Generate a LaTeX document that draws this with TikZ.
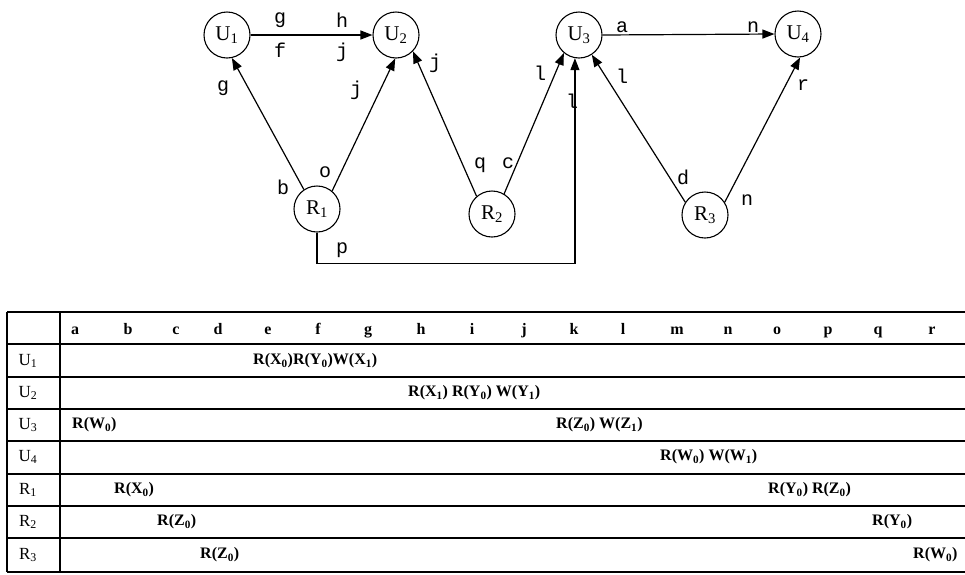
\documentclass[tikz,border=0pt]{standalone}
\usepackage{fontspec}
\setmainfont{Liberation Serif}
\newfontfamily\labelfont{Liberation Mono}
\usetikzlibrary{arrows.meta}
\begin{document}
\begin{tikzpicture}[x=1pt,y=-1pt,
  site/.style={draw,circle,line width=1.1pt,minimum size=46pt,inner sep=0pt,
    font=\fontsize{21}{21}\selectfont},
  link/.style={line width=1.2pt,-{Triangle[length=12pt,width=9pt]}},
  elabel/.style={font=\labelfont\fontsize{20}{20}\selectfont,inner sep=0pt},
  rule/.style={line width=1.2pt},
  cell/.style={font=\fontsize{16}{16}\selectfont\bfseries,inner sep=0pt,anchor=west},
  head/.style={font=\fontsize{16}{16}\selectfont\bfseries,inner sep=0pt},
  rowlab/.style={font=\fontsize{17}{17}\selectfont,inner sep=0pt}]
\useasboundingbox (0,0) rectangle (965,574);

% ---- sites ----
\node[site] (U1) at (227,35) {U\textsubscript{1}};
\node[site] (U2) at (396,35) {U\textsubscript{2}};
\node[site] (U3) at (579,35) {U\textsubscript{3}};
\node[site] (U4) at (798,34) {U\textsubscript{4}};
\node[site] (R1) at (317,209) {R\textsubscript{1}};
\node[site] (R2) at (492,214) {R\textsubscript{2}};
\node[site] (R3) at (705,215) {R\textsubscript{3}};

% ---- links ----
\draw[link] (U1.east) -- (U2.west);
\draw[link] (U3.east) -- (U4.west);
\draw[link] (R1.124) -- (U1.-78);
\draw[link] (R1.50) -- (U2.-92);
\draw[link] (R2.131) -- (U2.-44);
\draw[link] (R2.59) -- (U3.-130);
\draw[link] (R3.147) -- (U3.-57);
\draw[link] (R3.33) -- (U4.-85);
\draw[link] (R1.south) -- ++(0,31) -| (U3.-100);

% ---- link labels ----
\node[elabel] (l1) at (280,20) {g};
\node[elabel] (l2) at (342,20) {h};
\node[elabel] (l3) at (280,50) {f};
\node[elabel] (l4) at (342,52) {j};
\node[elabel] (l5) at (223,88) {g};
\node[elabel] (l6) at (283,187) {b};
\node[elabel] (l7) at (325,172) {o};
\node[elabel] (l8) at (356,90) {j};
\node[elabel] (l9) at (435,63) {j};
\node[elabel] (l10) at (480,165) {q};
\node[elabel] (l11) at (540,73) {l};
\node[elabel] (l12) at (508,163) {c};
\node[elabel] (l13) at (572,101) {l};
\node[elabel] (l14) at (342,250) {p};
\node[elabel] (l15) at (622,76) {l};
\node[elabel] (l16) at (683,177) {d};
\node[elabel] (l17) at (803,85) {r};
\node[elabel] (l18) at (747,200) {n};
\node[elabel] (l19) at (622,27) {a};
\node[elabel] (l20) at (753,27) {n};

% ---- table ----
\foreach \y in {312,344,377,409,441,474,506,538,572}
  \draw[rule] (7,\y) -- (965,\y);
\draw[rule] (7,312) -- (7,572);
\draw[rule] (60,312) -- (60,572);

\foreach \c/\x in {a/75,b/128,c/176,d/218,e/268,f/318,g/368,h/421,i/472,
                   j/524,k/574,l/623,m/677,n/728,o/777,p/828,q/878,r/932}
  \node[head,anchor=base] (h\c) at (\x,334) {\c};

\node[rowlab] (rU1) at (28,361) {U\textsubscript{1}};
\node[rowlab] (rU2) at (28,393) {U\textsubscript{2}};
\node[rowlab] (rU3) at (28,425) {U\textsubscript{3}};
\node[rowlab] (rU4) at (28,457) {U\textsubscript{4}};
\node[rowlab] (rR1) at (28,490) {R\textsubscript{1}};
\node[rowlab] (rR2) at (28,522) {R\textsubscript{2}};
\node[rowlab] (rR3) at (28,555) {R\textsubscript{3}};

\node[cell] (c1) at (253,361) {R(X\textsubscript{0})R(Y\textsubscript{0})W(X\textsubscript{1})};
\node[cell] (c2) at (408,393) {R(X\textsubscript{1}) R(Y\textsubscript{0}) W(Y\textsubscript{1})};
\node[cell] (c3) at (72,425) {R(W\textsubscript{0})};
\node[cell] (c4) at (556,425) {R(Z\textsubscript{0}) W(Z\textsubscript{1})};
\node[cell] (c5) at (660,457) {R(W\textsubscript{0}) W(W\textsubscript{1})};
\node[cell] (c6) at (114,490) {R(X\textsubscript{0})};
\node[cell] (c7) at (768,490) {R(Y\textsubscript{0}) R(Z\textsubscript{0})};
\node[cell] (c8) at (157,522) {R(Z\textsubscript{0})};
\node[cell] (c9) at (872,522) {R(Y\textsubscript{0})};
\node[cell] (c10) at (200,555) {R(Z\textsubscript{0})};
\node[cell] (c11) at (913,555) {R(W\textsubscript{0})};
\end{tikzpicture}
\end{document}
